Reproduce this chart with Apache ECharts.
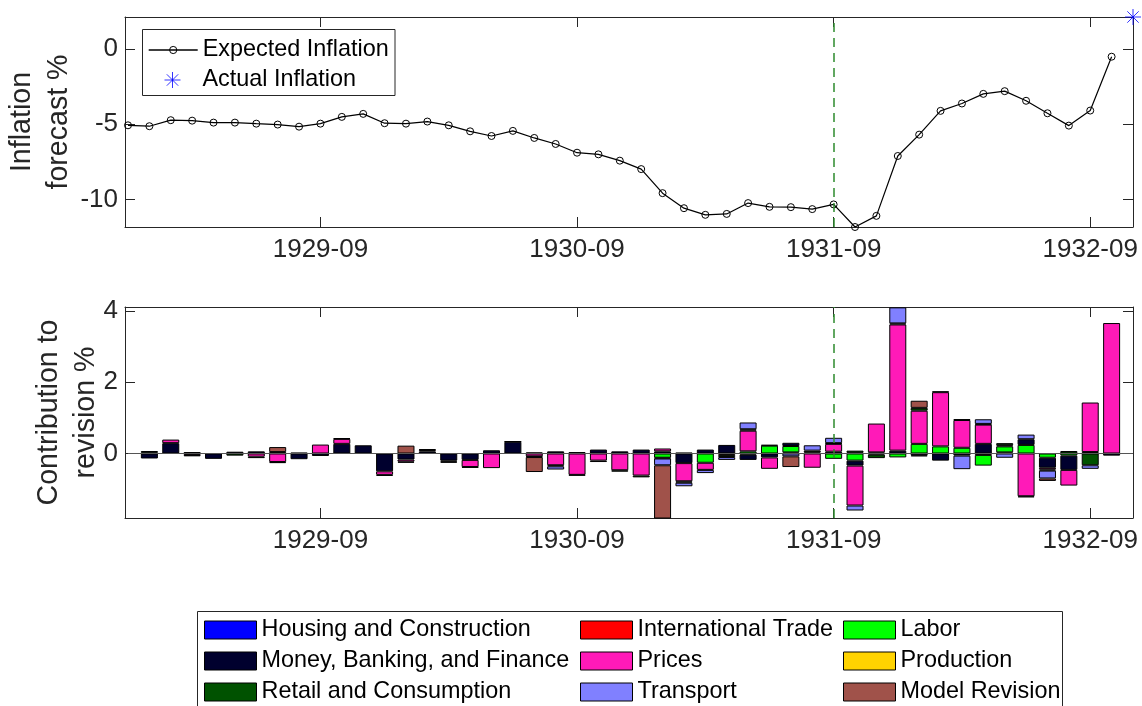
<!DOCTYPE html>
<html><head><meta charset="utf-8">
<script src="https://cdn.jsdelivr.net/npm/echarts@6/dist/echarts.min.js"></script>
<style>html,body{margin:0;padding:0;background:#fff}#c{width:1142px;height:706px}</style>
</head><body><div id="c"></div>
<script>
// ---------- DATA ----------
const monthLabels = ['1928-12',
 '1929-01','1929-02','1929-03','1929-04','1929-05','1929-06','1929-07','1929-08','1929-09','1929-10','1929-11','1929-12',
 '1930-01','1930-02','1930-03','1930-04','1930-05','1930-06','1930-07','1930-08','1930-09','1930-10','1930-11','1930-12',
 '1931-01','1931-02','1931-03','1931-04','1931-05','1931-06','1931-07','1931-08','1931-09','1931-10','1931-11','1931-12',
 '1932-01','1932-02','1932-03','1932-04','1932-05','1932-06','1932-07','1932-08','1932-09','1932-10','1932-11'];

// Expected inflation, 1928-12 .. 1932-10
const expectedInflation = [-5.07,-5.13,-4.73,-4.76,-4.89,-4.89,-4.96,-5.02,-5.16,-4.96,
 -4.51,-4.31,-4.93,-4.96,-4.82,-5.07,-5.47,-5.78,-5.44,-5.91,
 -6.31,-6.89,-7.00,-7.42,-7.98,-9.58,-10.58,-11.02,-10.96,-10.24,
 -10.49,-10.51,-10.64,-10.33,-11.83,-11.09,-7.11,-5.69,-4.11,-3.62,
 -2.98,-2.80,-3.44,-4.27,-5.09,-4.09,-0.51];
const actualMonth = '1932-11';
const actualInflation = 2.13;

const xTickLabels = ['1929-09','1930-09','1931-09','1932-09'];
const topYTicks = [-10,-5,0];
const bottomYTicks = [0,2,4];
const markerMonth = '1931-09';

// Contributions to revision, 1929-01 .. 1932-10
const barMonths = monthLabels.slice(1, 47);
const housing = [0,0,0,0,0,0,0,0,0,0, 0,0,0,0,0,0,0,0,0,0, 0,0,0,0,0,0,0,0,0,0, 0,0,0,0,0,0,0,0,0,0, 0,0,0,0,0,0];
const intlTrade = [0,0,0,0,0,0,0,0,0,0, 0,0,0,0,0,0,0,0,0,0, 0,0,0,0,0,0,0,-0.04,-0.03,0, 0.03,0,0,0.02,-0.03,0,0,0,0,-0.04, 0.03,0,0,0,0,0];
const labor = [0,0,0,0,0,0,0,0,0,0, 0,0,0,0,0,0,0,0,0,0, 0,0,0,0,-0.12,0.02,-0.26,0,0.06,0.22, 0.18,0.03,-0.15,-0.20,0,-0.11,0.27,0.20,0.16,-0.30, 0.17,0.24,-0.12,-0.06,0,0];
const money = [-0.14,0.29,0.04,-0.15,0.05,0.06,0.04,-0.16,-0.07,0.27, 0.23,-0.50,-0.17,0.06,-0.20,-0.18,0.09,0.33,0.03,0.06, 0.04,0.11,0.06,0.11,0.06,-0.27,0.11,0.24,-0.15,-0.11, 0.09,0,0.05,-0.14,0.03,0.08,-0.05,-0.20,-0.06,0.27, 0,0.16,-0.28,-0.40,0.04,-0.06];
const prices = [0.02,0.10,-0.04,0,0,-0.09,-0.24,0,0.25,0.14, 0,-0.10,-0.06,0.04,-0.03,-0.20,-0.41,0,-0.08,-0.33, -0.60,-0.20,-0.47,-0.62,0.08,-0.51,-0.20,0,0.58,-0.32, 0,-0.40,0.22,-1.12,0.81,3.54,0.93,1.52,0.78,0.54, 0.03,-1.20,-0.05,-0.44,1.39,3.66];
const production = [0,0,0,0,0,0,0,0,0,0, 0,0,0,0,0,0,0,0,0,0, 0,0,0,0,0,0,0,0,0,0, 0,0,0,0,0,0,0,0,0,0, 0,0,0,0,0,0];
const retail = [0.05,0,-0.04,0,-0.06,-0.04,-0.03,0.02,0,0.02, 0,-0.03,-0.03,0.02,-0.03,-0.02,0,0.01,-0.02,-0.03, -0.02,-0.04,-0.04,-0.05,-0.02,-0.04,0,-0.06,0.04,0.02, 0,0.05,0.02,0.06,-0.10,0.03,0.08,0.02,0.02,0.02, 0.06,-0.03,-0.03,0.07,-0.33,0];
const transport = [0,0,0,0,0,0,0,0,0,0, 0,0,0,0,0,0,0,0,0,-0.09, 0,0,0,0,-0.19,-0.10,-0.09,-0.08,0.19,0, -0.08,0.15,0.15,-0.14,0,0.45,-0.03,0,-0.38,0.13, -0.12,0.13,-0.22,0,-0.10,0];
const modelRevision = [0,0,0,0,0,0,0.14,0,0,0, 0,0,0.22,0,0,0,0,0,-0.42,0, 0,0,0,0,-1.50,0,0,0,0,0, -0.30,0,0,0,0,0,0.20,0,0,0, 0,0,-0.07,0,0,0];

const categoryNames = ['Housing and Construction','International Trade','Labor','Money, Banking, and Finance','Prices','Production','Retail and Consumption','Transport','Model Revision'];
const categoryValues = [housing,intlTrade,labor,money,prices,production,retail,transport,modelRevision];
const categoryColors = ['#0000ff','#ff0000','#00ff00','#00002e','#ff1ab8','#ffd300','#005200','#8080ff','#a0524a'];

// ---------- CHART ----------
const FONT = "'Liberation Sans', Arial, Helvetica, sans-serif";
const AX = '#262626';
const xi = m => monthLabels.indexOf(m);
const xTickVals = xTickLabels.map(xi);
const XMIN = -0.14, XMAX = xi(actualMonth);
const PLOT_L = 125, PLOT_W = 1008;
const PX_PER = PLOT_W / (XMAX - XMIN);

function xAx(grid, pos, showLabel) {
  return {type:'value', gridIndex:grid, position:pos, min:XMIN, max:XMAX,
    axisLine:{show:true, onZero:false, lineStyle:{color:AX, width:1}},
    axisTick:{show:true, inside:true, length:10, customValues:xTickVals, lineStyle:{color:AX, width:1}},
    axisLabel:{show:showLabel, customValues:xTickVals, formatter:v => monthLabels[Math.round(v)],
      fontSize:26, color:AX, margin:10, fontFamily:FONT},
    splitLine:{show:false}};
}
function yAx(grid, pos, min, max, ticks, showLabel, name, nameGap) {
  return {type:'value', gridIndex:grid, position:pos, min:min, max:max,
    axisLine:{show:true, onZero:false, lineStyle:{color:AX, width:1}},
    axisTick:{show:true, inside:true, length:10, customValues:ticks, lineStyle:{color:AX, width:1}},
    axisLabel:{show:showLabel, customValues:ticks, fontSize:26, color:AX, margin:7, fontFamily:FONT},
    splitLine:{show:false},
    name: showLabel ? name : '', nameLocation:'middle', nameRotate:90, nameGap:nameGap, nameMoveOverlap:false,
    nameTextStyle:{fontSize:28.6, color:AX, lineHeight:37, fontFamily:FONT}};
}

const starPath = 'path://M0,8L16,8M8,0L8,16M2.3,2.3L13.7,13.7M13.7,2.3L2.3,13.7';

const series = [
  {name:'Expected Inflation', type:'line', xAxisIndex:0, yAxisIndex:0, clip:false,
   data: expectedInflation.map((v,i)=>[i,v]),
   lineStyle:{color:'#000', width:1.2},
   symbol:'circle', symbolSize:7,
   itemStyle:{color:'rgba(0,0,0,0)', borderColor:'#000', borderWidth:1},
   markLine:{silent:true, symbol:['none','none'], label:{show:false},
     lineStyle:{color:'#2e8b2e', type:[9,6], width:1.5},
     data:[{xAxis: xi(markerMonth)}]}},
  {name:'Actual Inflation', type:'scatter', xAxisIndex:0, yAxisIndex:0, clip:false,
   data:[[xi(actualMonth), actualInflation]],
   symbol:starPath, symbolSize:16,
   itemStyle:{color:'rgba(0,0,0,0)', borderColor:'#0000ff', borderWidth:1}}
];
categoryNames.forEach((nm, k) => {
  const s = {name:nm, type:'bar', xAxisIndex:4, yAxisIndex:4, stack:'rev', barWidth:17,
    data: categoryValues[k].map((v,i)=>[barMonths[i], v === 0 ? null : v]),
    itemStyle:{color:categoryColors[k], borderColor:'#000', borderWidth:1}};
  if (k === 0) {
    s.markLine = {silent:true, symbol:['none','none'], label:{show:false},
      data:[{xAxis: markerMonth, lineStyle:{color:'#2e8b2e', type:[9,6], width:1.5}},
            {yAxis: 0, lineStyle:{color:'#555', type:'solid', width:1}}]};
  }
  series.push(s);
});

const legendText = {fontSize:23.4, color:'#000', fontFamily:FONT, lineHeight:24};
const colLegend = (names, left) => ({data:names, orient:'vertical', left:left, top:618, padding:0,
  itemWidth:52, itemHeight:18, itemGap:7, icon:'rect', selectedMode:false,
  itemStyle:{borderColor:'#000', borderWidth:1}, textStyle:legendText});

const option = {
  animation:false,
  grid:[{left:PLOT_L, top:17, width:PLOT_W, height:210, outerBoundsMode:'none'},
        {left:PLOT_L, top:307, width:PLOT_W, height:211, outerBoundsMode:'none'},
        {left:PLOT_L - XMIN*PX_PER, top:307, width:XMAX*PX_PER, height:211, outerBoundsMode:'none'}],
  xAxis:[xAx(0,'bottom',true), xAx(0,'top',false), xAx(1,'bottom',true), xAx(1,'top',false),
         {type:'category', gridIndex:2, data:monthLabels, boundaryGap:false, show:false}],
  yAxis:[yAx(0,'left',-11.83,2.13,topYTicks,true,'Inflation\nforecast %',47),
         yAx(0,'right',-11.83,2.13,topYTicks,false,'',0),
         yAx(1,'left',-1.81,4.11,bottomYTicks,true,'Contribution to\nrevision %',20),
         yAx(1,'right',-1.81,4.11,bottomYTicks,false,'',0),
         {type:'value', gridIndex:2, min:-1.81, max:4.11, show:false, splitLine:{show:false}}],
  legend:[
    {data:['Expected Inflation'], left:148, top:38, padding:0, itemWidth:49, itemHeight:9, selectedMode:false,
     lineStyle:{color:'#000', width:1.4}, itemStyle:{color:'rgba(0,0,0,0)', borderColor:'#000', borderWidth:1},
     textStyle:legendText},
    {data:['Actual Inflation'], left:164, top:68, padding:0, itemWidth:16, itemHeight:16, selectedMode:false,
     icon:starPath,
     itemStyle:{color:'rgba(0,0,0,0)', borderColor:'#0000ff', borderWidth:1},
     textStyle:{fontSize:23.4, color:'#000', fontFamily:FONT, lineHeight:24, padding:[0,0,0,17]}},
    colLegend([categoryNames[0],categoryNames[3],categoryNames[6]], 204),
    colLegend([categoryNames[1],categoryNames[4],categoryNames[7]], 580),
    colLegend([categoryNames[2],categoryNames[5],categoryNames[8]], 843)
  ],
  graphic:[
    {type:'rect', shape:{x:142.5, y:29.5, width:252.5, height:66}, style:{fill:'rgba(0,0,0,0)', stroke:AX, lineWidth:1}, silent:true},
    {type:'rect', shape:{x:197.5, y:611.5, width:865, height:120}, style:{fill:'rgba(0,0,0,0)', stroke:AX, lineWidth:1}, silent:true}
  ],
  series: series
};
const chart = echarts.init(document.getElementById('c'), null, {renderer:'canvas'});
chart.setOption(option);
</script>
</body></html>
